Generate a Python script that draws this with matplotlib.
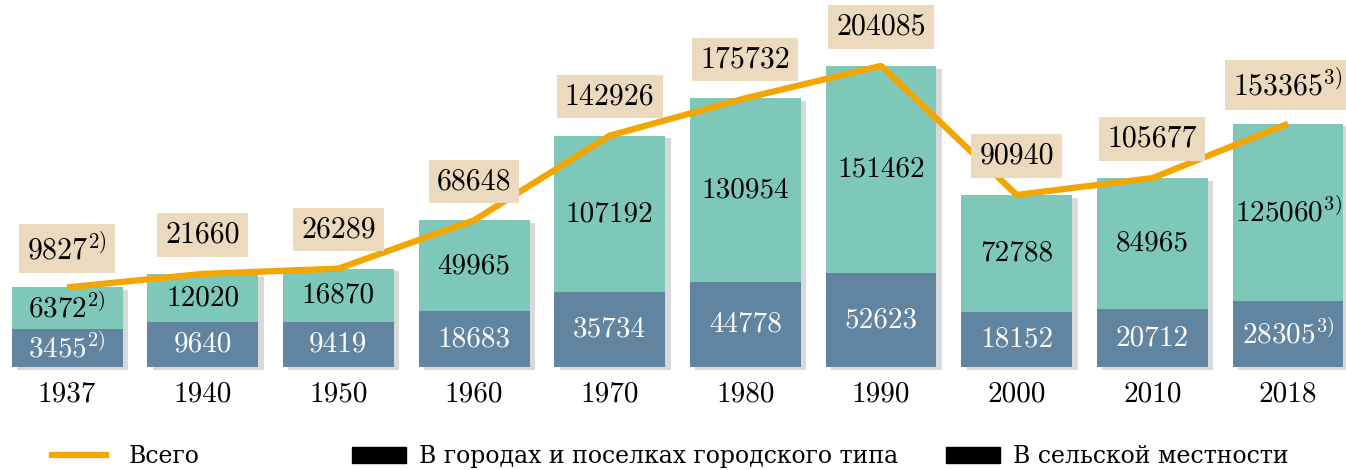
import numpy as np
import matplotlib
matplotlib.use("Agg")
import matplotlib.pyplot as plt
import matplotlib.patheffects as pe
from matplotlib.lines import Line2D
from matplotlib.patches import Patch

# данные
years = ["1937", "1940", "1950", "1960", "1970", "1980", "1990", "2000", "2010", "2018"]
urban = np.array([6372, 12020, 16870, 49965, 107192, 130954, 151462, 72788, 84965, 125060])
rural = np.array([3455, 9640, 9419, 18683, 35734, 44778, 52623, 18152, 20712, 28305])
notes_total = ["2)", "", "", "", "", "", "", "", "", "3)"]
notes_urban = ["2)", "", "", "", "", "", "", "", "", "3)"]
notes_rural = ["2)", "", "", "", "", "", "", "", "", "3)"]
legend_labels = ["Всего", "В городах и поселках городского типа", "В сельской местности"]

total = urban + rural

# стиль
c_urban = "#7ec8ba"
c_rural = "#6185a0"
c_box = "#ebdabd"
c_line = "#f3a600"
seg_min = 30000  # минимальная высота сегмента (как на рисунке)

plt.rcParams["font.family"] = ["cmr10", "DejaVu Serif"]
plt.rcParams["mathtext.fontset"] = "cm"
plt.rcParams["axes.unicode_minus"] = False


def lab(v, note):
    s = str(v)
    if note:
        s += "$^{" + note + "}$"
    return s


fig = plt.figure(figsize=(13.46, 4.70), dpi=100)
ax = fig.add_axes([0, 0, 1, 1])
x = np.arange(len(years))
tops = total + 2 * seg_min

# подложка с тенью, потом сегменты
bg = ax.bar(x, tops, width=0.818, color=c_rural, zorder=1)
for p in bg:
    p.set_path_effects([pe.SimplePatchShadow(offset=(4, -2), shadow_rgbFace="k", alpha=0.15), pe.Normal()])
ax.bar(x, rural + seg_min, width=0.818, color=c_rural, zorder=2)
ax.bar(x, urban + seg_min, width=0.818, bottom=rural + seg_min, color=c_urban, zorder=2)

ax.plot(x, tops, color=c_line, lw=4.5, zorder=3, solid_capstyle="butt")

for i in range(len(years)):
    ax.text(x[i], (rural[i] + seg_min) / 2, lab(rural[i], notes_rural[i]),
            ha="center", va="center", color="white", fontsize=21, zorder=4)
    ax.text(x[i], rural[i] + seg_min + (urban[i] + seg_min) / 2, lab(urban[i], notes_urban[i]),
            ha="center", va="center", color="black", fontsize=21, zorder=4)
    ax.annotate(lab(total[i], notes_total[i]), (x[i], tops[i]), xytext=(0, 28),
                textcoords="offset points", ha="center", va="center", fontsize=21.5, zorder=5,
                bbox=dict(boxstyle="square,pad=0.27", fc=c_box, ec="none"))

ax.spines["bottom"].set_position(("data", 0))
for s in ax.spines.values():
    s.set_visible(False)
ax.set_xticks(x, years, fontsize=21)
ax.tick_params(axis="x", length=0, pad=10)
ax.set_yticks([])
ax.set_xlim(-0.494, 9.4275)
ax.set_ylim(-90331, 321859)

# легенда: три отдельных элемента, как на рисунке
handles = [Line2D([], [], color=c_line, lw=4.5),
           Patch(color="black"), Patch(color="black")]
anchors = [0.0386, 0.2615, 0.7028]
pads = [0.93, 0.55, 0.55]
for h, t, a, tp in zip(handles, legend_labels, anchors, pads):
    fig.legend([h], [t], loc="center left", bbox_to_anchor=(a, 0.028), frameon=False,
               prop={"family": "DejaVu Serif", "size": 17}, borderpad=0, borderaxespad=0,
               handlelength=2.3, handleheight=0.64, handletextpad=tp)

fig.savefig("out.png", dpi=100)
